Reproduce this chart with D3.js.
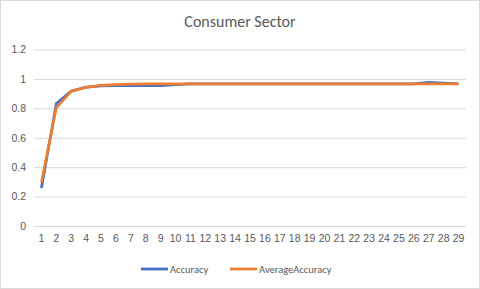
<!DOCTYPE html>
<html lang="en">
<head>
<meta charset="utf-8">
<style>
  body { margin: 0; background: white; }
  svg { font-family: Carlito, Calibri, "Liberation Sans", sans-serif; }
  .grid line { stroke: #d9d9d9; }
  .tick text { fill: #595959; font-size: 10.5px; }
</style>
</head>
<body>
<svg width="480" height="289"></svg>
<script src="https://d3js.org/d3.v7.min.js"></script>
<script>
const categories = d3.range(1, 30);
const accuracy = [0.258, 0.832, 0.918, 0.945, 0.952, 0.955, 0.955, 0.955, 0.955, 0.962,
  0.967, 0.967, 0.967, 0.967, 0.967, 0.967, 0.967, 0.967, 0.967, 0.967,
  0.967, 0.967, 0.967, 0.967, 0.967, 0.967, 0.977, 0.971, 0.967];
const averageAccuracy = [0.296, 0.805, 0.915, 0.942, 0.956, 0.961, 0.964, 0.966, 0.967, 0.967,
  0.967, 0.967, 0.967, 0.967, 0.967, 0.967, 0.967, 0.967, 0.967, 0.967,
  0.967, 0.967, 0.967, 0.967, 0.967, 0.967, 0.967, 0.967, 0.967];
const yTicks = [0, 0.2, 0.4, 0.6, 0.8, 1, 1.2];

const svg = d3.select("svg");

svg.append("rect")
    .attr("x", 0.5).attr("y", 0.5)
    .attr("width", 479).attr("height", 288)
    .attr("fill", "white").attr("stroke", "#d9d9d9");

svg.append("text")
    .attr("x", 240).attr("y", 27)
    .attr("text-anchor", "middle")
    .attr("fill", "#595959")
    .style("font-size", "16px")
    .text("Consumer Sector");

const x = d3.scaleBand().domain(categories).range([34, 466]);
const y = d3.scaleLinear().domain([0, 1.2]).range([226, 49.5]);

// gridlines + y labels
const yAxis = svg.append("g")
    .attr("class", "grid")
    .attr("transform", "translate(34,0)")
    .call(d3.axisLeft(y).tickValues(yTicks).tickSize(-432).tickPadding(8)
      .tickFormat(d => d3.format("")(d)));
yAxis.select(".domain").remove();

const xAxis = svg.append("g")
    .attr("transform", "translate(0,226)")
    .call(d3.axisBottom(x).tickSize(0).tickPadding(9));
xAxis.select(".domain").remove();

const line = d3.line()
    .x((d, i) => x(categories[i]) + x.bandwidth() / 2)
    .y(d => y(d));

svg.append("path")
    .datum(accuracy)
    .attr("fill", "none")
    .attr("stroke", "#4472C4")
    .attr("stroke-width", 2.75)
    .attr("stroke-linejoin", "round")
    .attr("d", line);

svg.append("path")
    .datum(averageAccuracy)
    .attr("fill", "none")
    .attr("stroke", "#ED7D31")
    .attr("stroke-width", 2.75)
    .attr("stroke-linejoin", "round")
    .attr("d", line);

// legend
const legend = [
  { name: "Accuracy", color: "#4472C4", x: 141 },
  { name: "AverageAccuracy", color: "#ED7D31", x: 230 }
];
const lg = svg.append("g").selectAll("g").data(legend).join("g")
    .attr("transform", d => `translate(${d.x},269)`);
lg.append("line")
    .attr("x1", 0).attr("x2", 27)
    .attr("stroke", d => d.color).attr("stroke-width", 2.75);
lg.append("text")
    .attr("x", 29).attr("dy", "0.35em")
    .attr("fill", "#595959")
    .style("font-size", "10.5px")
    .text(d => d.name);
</script>
</body>
</html>
